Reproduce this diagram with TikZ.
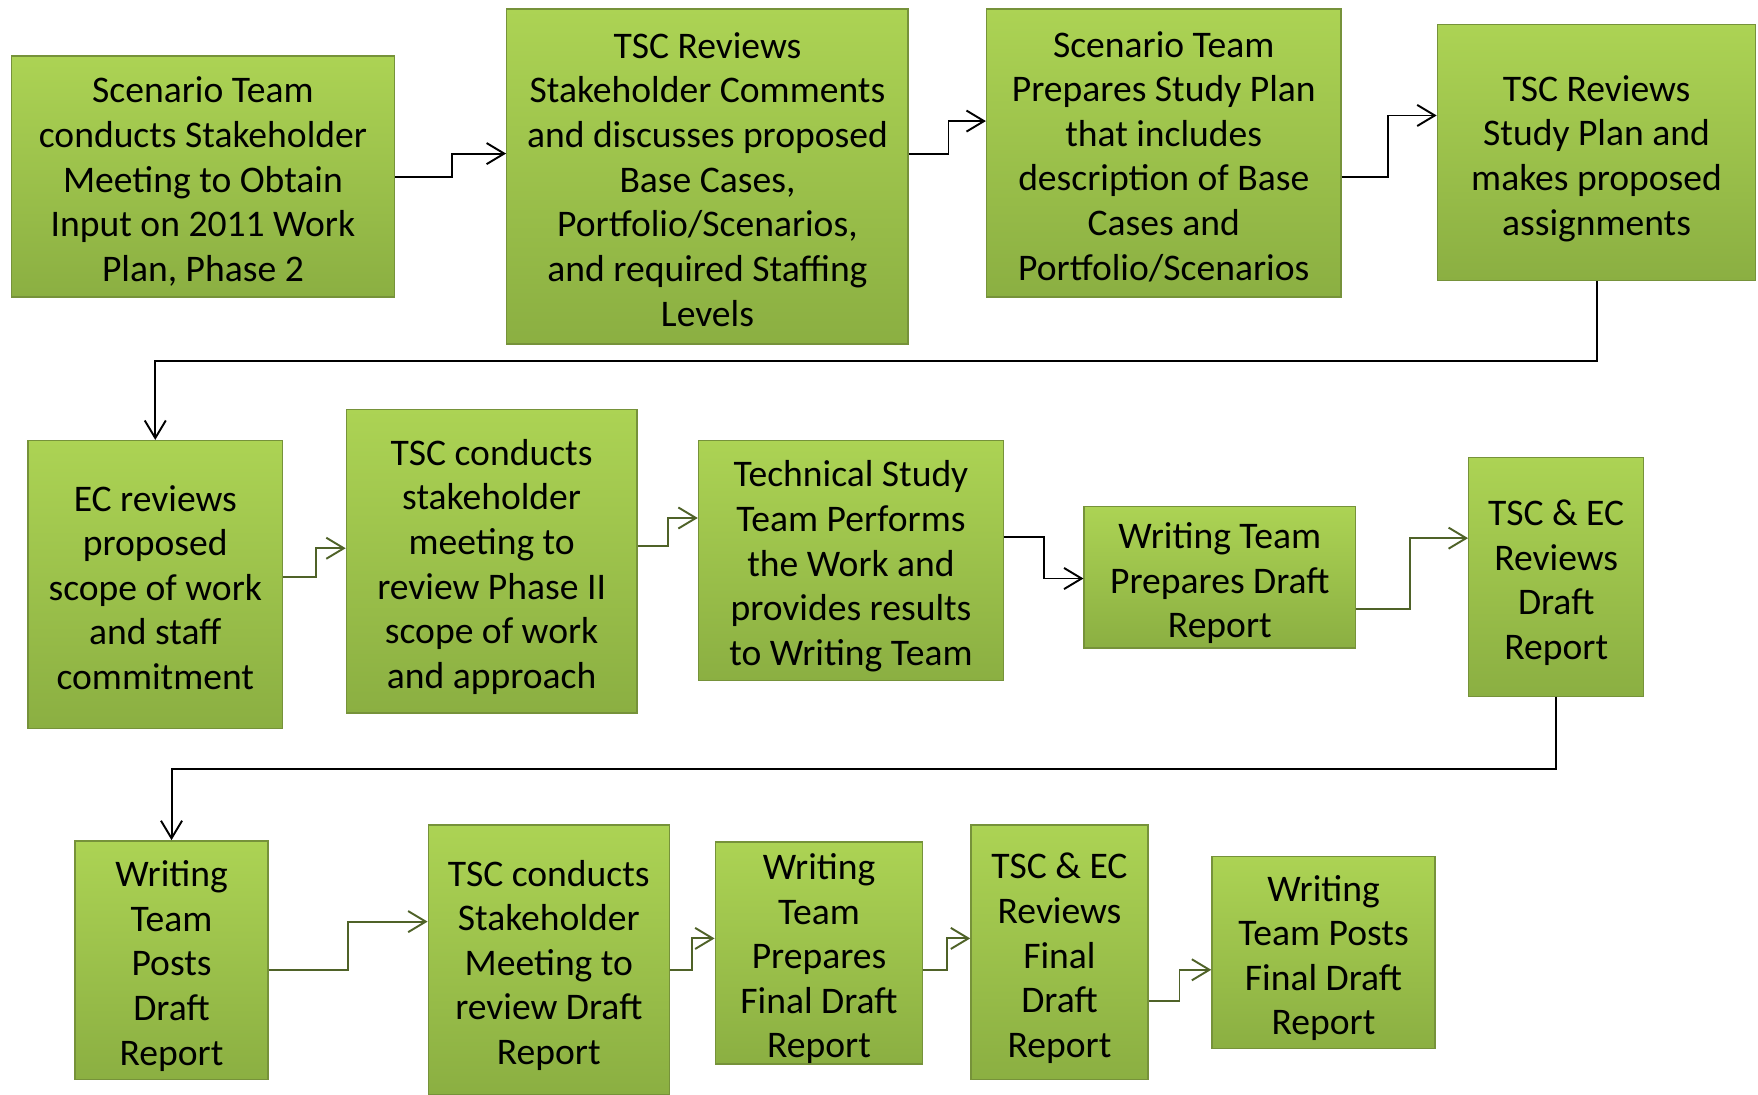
\documentclass[tikz,border=0pt]{standalone}
\usepackage{fontspec}
\setmainfont{Carlito}
\usetikzlibrary{arrows.meta}
\definecolor{boxtop}{RGB}{172,211,84}
\definecolor{boxbot}{RGB}{139,175,66}
\definecolor{boxedge}{RGB}{118,146,58}
\definecolor{olive}{RGB}{79,98,40}
% centred lines, set a little low, that never widen the box
\newcommand{\boxtext}[1]{\raisebox{-9pt}[0pt][0pt]{\begin{tabular}{@{}c@{}}#1\end{tabular}}}
\tikzset{
	stepbox/.style={draw=boxedge,line width=0.8pt,top color=boxtop,bottom color=boxbot,
		inner sep=0pt,font=\fontsize{21.4}{25.4}\selectfont},
	boxsize/.style 2 args={minimum width=#1*0.022424cm,minimum height=#2*0.022424cm},
	link/.style={line width=1.1pt,-{Straight Barb[length=10pt,width=12pt]}}
}
\begin{document}
\begin{tikzpicture}[x=0.022424cm,y=-0.022424cm]
	\useasboundingbox (0,0) rectangle (1568,976);
	% row 1
	\node[stepbox,boxsize={342}{215}] (b1) at (181,157.5) {\boxtext{Scenario Team\\conducts Stakeholder\\Meeting to Obtain\\Input on 2011 Work\\Plan, Phase 2}};
	\node[stepbox,boxsize={358}{299}] (b2) at (631,157.5) {\boxtext{TSC Reviews\\Stakeholder Comments\\and discusses proposed\\Base Cases,\\Portfolio/Scenarios,\\and required Staffing\\Levels}};
	\node[stepbox,boxsize={316}{257}] (b3) at (1038,136.5) {\boxtext{Scenario Team\\Prepares Study Plan\\that includes\\description of Base\\Cases and\\Portfolio/Scenarios}};
	\node[stepbox,boxsize={284}{228}] (b4) at (1424,136) {\boxtext{TSC Reviews\\Study Plan and\\makes proposed\\assignments}};
	% row 2
	\node[stepbox,boxsize={227}{257}] (b5) at (138.5,521.5) {\boxtext{EC reviews\\proposed\\scope of work\\and staff\\commitment}};
	\node[stepbox,boxsize={259}{271}] (b6) at (438.5,500.5) {\boxtext{TSC conducts\\stakeholder\\meeting to\\review Phase II\\scope of work\\and approach}};
	\node[stepbox,boxsize={272}{214}] (b7) at (759,500) {\boxtext{Technical Study\\Team Performs\\the Work and\\provides results\\to Writing Team}};
	\node[stepbox,boxsize={242}{126}] (b8) at (1088,515) {\boxtext{Writing Team\\Prepares Draft\\Report}};
	\node[stepbox,boxsize={156}{213}] (b9) at (1388,514.5) {\boxtext{TSC \& EC\\Reviews\\Draft\\Report}};
	% row 3
	\node[stepbox,boxsize={172}{213}] (b10) at (153,856.5) {\boxtext{Writing\\Team\\Posts\\Draft\\Report}};
	\node[stepbox,boxsize={215}{240}] (b11) at (489.5,856) {\boxtext{TSC conducts\\Stakeholder\\Meeting to\\review Draft\\Report}};
	\node[stepbox,boxsize={185}{198}] (b12) at (730.5,850) {\boxtext{Writing\\Team\\Prepares\\Final Draft\\Report}};
	\node[stepbox,boxsize={158}{227}] (b13) at (945,849.5) {\boxtext{TSC \& EC\\Reviews\\Final\\Draft\\Report}};
	\node[stepbox,boxsize={199}{171}] (b14) at (1180.5,849.5) {\boxtext{Writing\\Team Posts\\Final Draft\\Report}};
	% connectors
	\draw[link] (b1.east) -| (403,137) -- (b2.west |- 0,137);
	\draw[link] (b2.east |- 0,137) -| (846,108) -- (b3.west |- 0,108);
	\draw[link] (b3.east |- 0,158) -| (1238,103) -- (b4.west |- 0,103);
	\draw[link] (b4.south) -- (b4.south |- 0,322) -| (b5.north);
	\draw[link,olive] (b5.east |- 0,515) -| (282,489) -- (b6.west |- 0,489);
	\draw[link,olive] (b6.east |- 0,487) -| (596,462) -- (b7.west |- 0,462);
	\draw[link] (b7.east |- 0,479) -| (931,516) -- (b8.west |- 0,516);
	\draw[link,olive] (b8.east |- 0,543) -| (1258,480) -- (b9.west |- 0,480);
	\draw[link] (b9.south) -- (b9.south |- 0,686) -| (b10.north);
	\draw[link,olive] (b10.east |- 0,865) -| (310,822) -- (b11.west |- 0,822);
	\draw[link,olive] (b11.east |- 0,865) -| (617,837) -- (b12.west |- 0,837);
	\draw[link,olive] (b12.east |- 0,865) -| (845,837) -- (b13.west |- 0,837);
	\draw[link,olive] (b13.east |- 0,893) -| (1052,865) -- (b14.west |- 0,865);
\end{tikzpicture}
\end{document}
